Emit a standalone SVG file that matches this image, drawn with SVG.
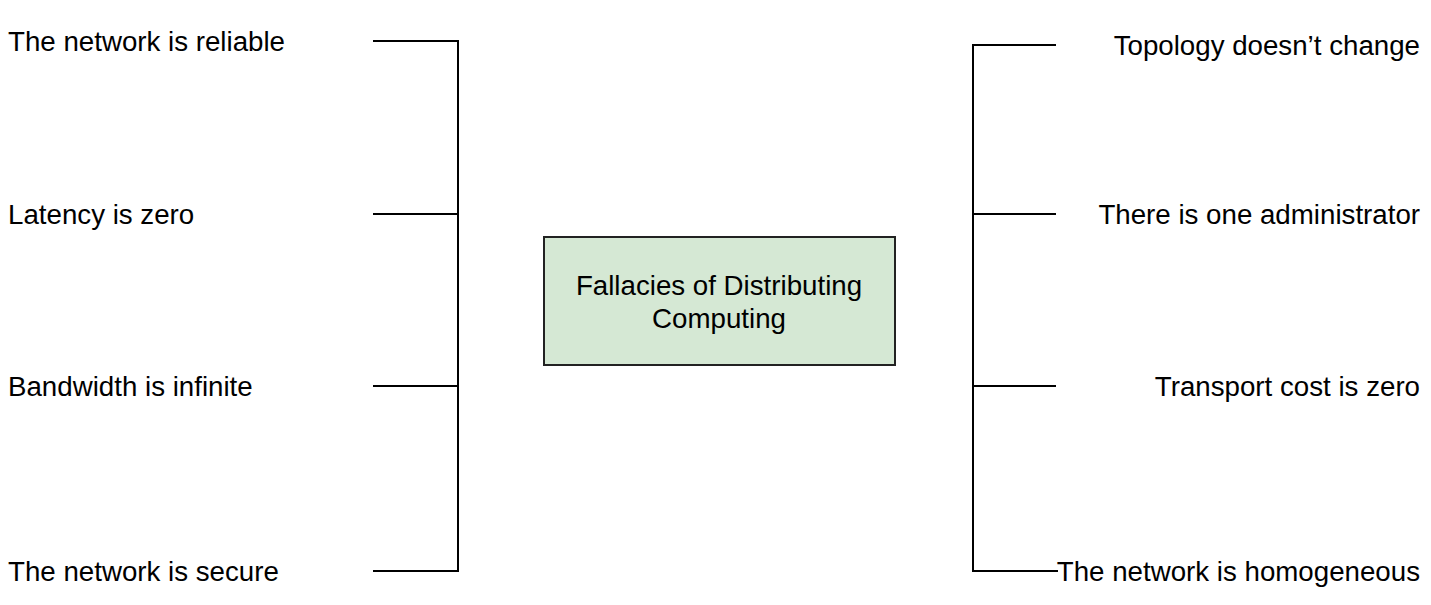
<svg xmlns="http://www.w3.org/2000/svg" width="1431" height="605" viewBox="0 0 1431 605">
<style>
.t{font-family:"Liberation Sans",Arial,sans-serif;font-size:27.7px;fill:#000}
.c{fill:none;stroke:#000;stroke-width:2}
</style>
<rect width="1431" height="605" fill="#fff"/>
<g id="connectors">
<path class="c" d="M373 41H458V571H373M373 214H458M373 386H458"/>
<path class="c" d="M1056 45H973V571H1058M973 214H1056M973 386H1056"/>
</g>
<g id="center">
<rect x="544" y="237" width="351" height="128" fill="#d5e8d4" stroke="#222" stroke-width="2"/>
<text class="t" x="719" y="295" text-anchor="middle">Fallacies of Distributing</text>
<text class="t" x="719" y="328" text-anchor="middle">Computing</text>
</g>
<g id="n1"><text class="t" x="8" y="50.5">The network is reliable</text></g>
<g id="n2"><text class="t" x="8" y="223.5">Latency is zero</text></g>
<g id="n3"><text class="t" x="8" y="395.5">Bandwidth is infinite</text></g>
<g id="n4"><text class="t" x="8" y="580.5">The network is secure</text></g>
<g id="n5"><text class="t" x="1420" y="54.5" text-anchor="end">Topology doesn’t change</text></g>
<g id="n6"><text class="t" x="1420" y="223.5" text-anchor="end">There is one administrator</text></g>
<g id="n7"><text class="t" x="1420" y="395.5" text-anchor="end">Transport cost is zero</text></g>
<g id="n8"><text class="t" x="1420" y="580.5" text-anchor="end">The network is homogeneous</text></g>
</svg>
